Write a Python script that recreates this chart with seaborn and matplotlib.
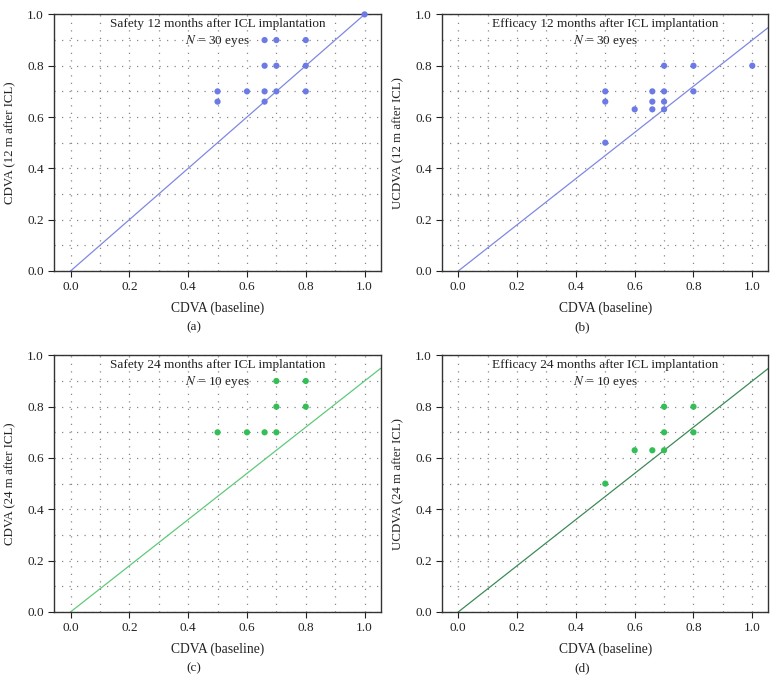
import numpy as np
import pandas as pd
import matplotlib.pyplot as plt
import seaborn as sns
from matplotlib.ticker import MultipleLocator

# ---- data ----
a_x = [0.5, 0.5, 0.6, 0.66, 0.66, 0.66, 0.66, 0.7, 0.7, 0.7, 0.8, 0.8, 0.8, 1.0]
a_y = [0.7, 0.66, 0.7, 0.9, 0.8, 0.7, 0.66, 0.9, 0.8, 0.7, 0.9, 0.8, 0.7, 1.0]

b_x = [0.5, 0.5, 0.5, 0.6, 0.66, 0.66, 0.66, 0.7, 0.7, 0.7, 0.7, 0.8, 0.8, 1.0]
b_y = [0.7, 0.66, 0.5, 0.63, 0.7, 0.66, 0.63, 0.8, 0.7, 0.66, 0.63, 0.8, 0.7, 0.8]

c_x = [0.5, 0.6, 0.66, 0.7, 0.7, 0.7, 0.8, 0.8]
c_y = [0.7, 0.7, 0.7, 0.7, 0.8, 0.9, 0.8, 0.9]

d_x = [0.5, 0.6, 0.66, 0.7, 0.7, 0.7, 0.8, 0.8]
d_y = [0.5, 0.63, 0.63, 0.63, 0.7, 0.8, 0.7, 0.8]

# reference line slopes
slopes = [1.0, 0.9, 0.9, 0.9]

titles = ["Safety 12 months after ICL implantation",
          "Efficacy 12 months after ICL implantation",
          "Safety 24 months after ICL implantation",
          "Efficacy 24 months after ICL implantation"]
n_eyes = [30, 30, 10, 10]
ylabels = ["CDVA (12 m after ICL)", "UCDVA (12 m after ICL)",
           "CDVA (24 m after ICL)", "UCDVA (24 m after ICL)"]
panel_tags = ["(a)", "(b)", "(c)", "(d)"]

point_colors = ["#6b7ae6", "#6b7ae6", "#33bf55", "#33bf55"]
line_colors = ["#7f88e2", "#7f88e2", "#5fca7a", "#3d8a57"]

sns.set_style("white")
plt.rcParams['font.family'] = ['Liberation Serif', 'DejaVu Serif']
plt.rcParams['mathtext.fontset'] = 'stix'

fig = plt.figure(figsize=(7.77, 6.86), dpi=100)

# axes boxes in figure fractions [left, bottom, width, height]
boxes = [[0.070, 0.605, 0.420, 0.374],
         [0.569, 0.605, 0.420, 0.374],
         [0.070, 0.108, 0.420, 0.374],
         [0.569, 0.108, 0.420, 0.374]]

datasets = [(a_x, a_y), (b_x, b_y), (c_x, c_y), (d_x, d_y)]

for i, (xs, ys) in enumerate(datasets):
    ax = fig.add_axes(boxes[i])
    df = pd.DataFrame({"baseline": xs, "after": ys})

    xlim = (-0.055, 1.055)
    ax.set_xlim(xlim)
    ax.set_ylim(0, 1.0)

    # grid at every 0.1
    ax.xaxis.set_major_locator(MultipleLocator(0.2))
    ax.yaxis.set_major_locator(MultipleLocator(0.2))
    ax.xaxis.set_minor_locator(MultipleLocator(0.1))
    ax.yaxis.set_minor_locator(MultipleLocator(0.1))
    ax.grid(True, which="both", color="#888888", linestyle=(0, (1, 5)), linewidth=0.9)
    ax.set_axisbelow(True)

    # reference line
    lx = np.array([0.0, xlim[1]])
    sns.lineplot(x=lx, y=slopes[i] * lx, ax=ax, color=line_colors[i], linewidth=0.9)

    sns.scatterplot(data=df, x="baseline", y="after", ax=ax, color=point_colors[i],
                    s=20, edgecolor="none", zorder=3, clip_on=False)

    ticks = np.arange(0, 1.01, 0.2)
    ax.set_xticks(ticks)
    ax.set_yticks(ticks)
    ax.set_xticklabels([f"{v:.1f}" for v in ticks])
    ax.set_yticklabels([f"{v:.1f}" for v in ticks])
    ax.tick_params(which="major", direction="out", length=4, width=0.8,
                   labelsize=9.5, colors="#222222", bottom=True, left=True)
    ax.tick_params(which="minor", length=0)

    for sp in ax.spines.values():
        sp.set_color("#333333")
        sp.set_linewidth(1.0)

    ax.set_xlabel("CDVA (baseline)", fontsize=9.8, color="#222222", labelpad=6)
    ax.set_ylabel(ylabels[i], fontsize=9.3, color="#222222", labelpad=8)

    ax.text(0.5, 0.962, titles[i], transform=ax.transAxes, ha="center", va="center",
            fontsize=9.5, color="#222222")
    ax.text(0.5, 0.898, f"$N$ = {n_eyes[i]} eyes", transform=ax.transAxes,
            ha="center", va="center", fontsize=9.5, color="#222222")

    # panel tag below the axis
    cx = boxes[i][0] + boxes[i][2] / 2 - 0.03
    ty = boxes[i][1] - 0.082
    fig.text(cx, ty, panel_tags[i], ha="center", va="center", fontsize=9.5, color="#222222")

fig.savefig("out.png", dpi=100)
